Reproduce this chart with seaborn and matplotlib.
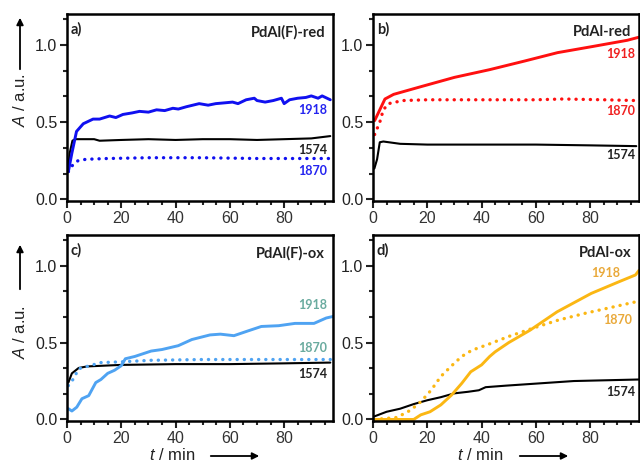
import numpy as np
import pandas as pd
import matplotlib
matplotlib.use("Agg")
import matplotlib.pyplot as plt
from matplotlib.ticker import MultipleLocator
import seaborn as sns

sns.set_style("ticks")
plt.rcParams['font.family'] = ['Liberation Sans', 'DejaVu Sans']
plt.rcParams['mathtext.fontset'] = 'custom'
plt.rcParams['mathtext.it'] = 'Liberation Sans:italic'
plt.rcParams['mathtext.rm'] = 'Liberation Sans'

# panel a) PdAl(F)-red
a_t_1918 = [0.5, 1.8, 3.5, 6, 9.6, 12, 15.7, 18, 20.6, 24, 26.7, 30, 33, 36, 39, 41, 44, 48.7, 52, 54.8, 58, 61, 63, 66, 69, 70, 73, 76, 79, 80, 82, 85, 88, 90, 92.5, 94, 97]
a_v_1918 = [0.18, 0.30, 0.44, 0.49, 0.52, 0.52, 0.54, 0.53, 0.55, 0.56, 0.57, 0.565, 0.58, 0.575, 0.59, 0.585, 0.60, 0.62, 0.61, 0.62, 0.625, 0.63, 0.62, 0.645, 0.655, 0.64, 0.63, 0.64, 0.655, 0.62, 0.645, 0.655, 0.66, 0.67, 0.655, 0.67, 0.645]
a_t_1870 = [0.5, 2, 4, 7, 15, 30, 50, 70, 97]
a_v_1870 = [0.18, 0.22, 0.25, 0.26, 0.265, 0.27, 0.27, 0.265, 0.265]
a_t_1574 = [0.5, 1, 2, 3, 10, 12, 20, 30, 40, 50, 60, 70, 80, 90, 97]
a_v_1574 = [0.21, 0.30, 0.38, 0.39, 0.39, 0.38, 0.385, 0.39, 0.385, 0.39, 0.39, 0.385, 0.39, 0.395, 0.41]

# panel b) PdAl-red
b_t_1918 = [0.6, 2.5, 4.4, 7.6, 17.7, 30, 43, 55.7, 68, 81, 93.7, 98]
b_v_1918 = [0.51, 0.58, 0.65, 0.68, 0.73, 0.79, 0.84, 0.895, 0.95, 0.99, 1.03, 1.05]
b_t_1870 = [0.6, 2.5, 3.8, 5.7, 11, 20, 40, 60, 70, 85, 97]
b_v_1870 = [0.42, 0.50, 0.58, 0.62, 0.64, 0.645, 0.645, 0.645, 0.65, 0.645, 0.64]
b_t_1574 = [0.5, 1.5, 2.5, 3.8, 10, 20, 40, 60, 80, 97]
b_v_1574 = [0.20, 0.26, 0.37, 0.375, 0.36, 0.355, 0.355, 0.355, 0.35, 0.345]

# panel c) PdAl(F)-ox
c_t_1918 = [0.5, 1.8, 3.6, 5.5, 8, 10.6, 12.5, 15, 17.5, 20, 21.5, 25, 31, 35, 41, 46, 52.7, 56.5, 61.5, 66.5, 71.6, 78, 84, 91, 95.5, 98]
c_v_1918 = [0.07, 0.055, 0.08, 0.135, 0.155, 0.24, 0.26, 0.30, 0.32, 0.35, 0.395, 0.41, 0.445, 0.455, 0.48, 0.52, 0.55, 0.555, 0.545, 0.575, 0.605, 0.61, 0.625, 0.625, 0.66, 0.67]
c_t_1870 = [0.5, 2.4, 4.3, 7.4, 12.5, 20, 31, 50, 70, 97]
c_v_1870 = [0.22, 0.265, 0.33, 0.345, 0.37, 0.375, 0.385, 0.39, 0.39, 0.39]
c_t_1574 = [0.5, 1.8, 4.3, 7.4, 20, 40, 60, 80, 97]
c_v_1574 = [0.24, 0.30, 0.335, 0.345, 0.355, 0.36, 0.36, 0.365, 0.37]

# panel d) PdAl-ox
d_t_1918 = [0.5, 15, 17.6, 21, 25, 29, 32.7, 36, 40, 43, 45, 50, 57.8, 67.8, 80.4, 90.5, 96.7, 98]
d_v_1918 = [0.0, 0.0, 0.03, 0.05, 0.095, 0.16, 0.235, 0.31, 0.355, 0.41, 0.44, 0.50, 0.58, 0.70, 0.82, 0.895, 0.94, 0.97]
d_t_1870 = [0.5, 8.8, 13.8, 17.6, 21.4, 25, 29, 32.7, 36.4, 42.7, 50, 60, 68, 78, 88, 98]
d_v_1870 = [0.0, 0.013, 0.06, 0.115, 0.19, 0.28, 0.35, 0.41, 0.45, 0.49, 0.54, 0.60, 0.645, 0.69, 0.73, 0.77]
d_t_1574 = [0.5, 5, 10, 15, 20, 25, 30, 35, 39, 41.5, 49, 61.5, 74, 98]
d_v_1574 = [0.02, 0.05, 0.07, 0.10, 0.125, 0.145, 0.17, 0.18, 0.19, 0.21, 0.22, 0.235, 0.25, 0.26]

panel_letters = ["a)", "b)", "c)", "d)"]
panel_names = ["PdAl(F)-red", "PdAl-red", "PdAl(F)-ox", "PdAl-ox"]
line_colors = ["#1010f0", "#ff1010", "#4fa3f2", "#fbb713"]
label_colors = ["#2424f0", "#f02020", "#6aab9f", "#e9a93a"]

series = [
    [(a_t_1918, a_v_1918), (a_t_1870, a_v_1870), (a_t_1574, a_v_1574)],
    [(b_t_1918, b_v_1918), (b_t_1870, b_v_1870), (b_t_1574, b_v_1574)],
    [(c_t_1918, c_v_1918), (c_t_1870, c_v_1870), (c_t_1574, c_v_1574)],
    [(d_t_1918, d_v_1918), (d_t_1870, d_v_1870), (d_t_1574, d_v_1574)],
]
# label positions (t, A) for 1918, 1870, 1574
label_pos = [
    [(96, 0.58), (96, 0.186), (96, 0.32)],
    [(96.5, 0.94), (96.5, 0.575), (96.5, 0.285)],
    [(96, 0.745), (96, 0.465), (96, 0.295)],
    [(91, 0.95), (95.5, 0.645), (96.7, 0.18)],
]

W, H = 640, 465
fig = plt.figure(figsize=(6.4, 4.65), dpi=100)
boxes = [(67, 14, 333, 201), (373, 14, 639, 201), (67, 235, 333, 421), (373, 235, 639, 421)]

for i, (l, t, r, b) in enumerate(boxes):
    ax = fig.add_axes([l / W, 1 - b / H, (r - l) / W, (b - t) / H])
    (t1, v1), (t2, v2), (t3, v3) = series[i]
    sns.lineplot(x=t3, y=v3, ax=ax, color="black", lw=1.5, estimator=None, sort=False)
    sns.lineplot(x=t2, y=v2, ax=ax, color=line_colors[i], lw=2.4, estimator=None, sort=False,
                 linestyle=(0, (0.05, 2.1)), dash_capstyle="round")
    sns.lineplot(x=t1, y=v1, ax=ax, color=line_colors[i], lw=2.1, estimator=None, sort=False)
    ax.set_xlim(0, 98)
    ax.set_ylim(-0.01, 1.2)
    ax.set_xticks([0, 20, 40, 60, 80])
    ax.set_yticks([0.0, 0.5, 1.0])
    ax.set_yticklabels(["0.0", "0.5", "1.0"])
    ax.xaxis.set_minor_locator(MultipleLocator(5))
    ax.yaxis.set_minor_locator(MultipleLocator(1 / 6))
    ax.tick_params(which="major", direction="out", length=5, width=1.5, labelsize=11.5, colors="#222222", pad=2)
    ax.tick_params(which="minor", direction="out", length=3, width=1.5)
    ax.tick_params(axis="x", which="both", labelcolor="#333333")
    for s in ax.spines.values():
        s.set_linewidth(1.8)
        s.set_color("black")
    ax.set_xlabel("")
    ax.set_ylabel("")
    ax.text(0.015, 0.955, panel_letters[i], transform=ax.transAxes, ha="left", va="top",
            fontsize=10.5, fontweight="bold", family=["Lato", "DejaVu Sans"], color="#222222")
    ax.text(0.97, 0.94, panel_names[i], transform=ax.transAxes, ha="right", va="top",
            fontsize=10.5, fontweight="bold", family=["Lato", "DejaVu Sans"], color="#222222")
    cols = [label_colors[i], label_colors[i], "#222222"]
    for (lx, ly), txt, c in zip(label_pos[i], ["1918", "1870", "1574"], cols):
        ax.text(lx, ly, txt, ha="right", va="center", fontsize=9, fontweight="bold",
                family=["Lato", "DejaVu Sans"], color=c)

# y axis labels with arrows
for yc, ya0, ya1 in [(100, 72, 15), (332, 292, 242)]:
    fig.text(20 / W, 1 - yc / H, r"$\it{A}$ / a.u.", rotation=90, ha="center", va="center",
             fontsize=12, color="#222222")
    fig.add_artist(matplotlib.patches.FancyArrowPatch((20 / W, 1 - ya0 / H), (20 / W, 1 - ya1 / H),
                   transform=fig.transFigure, arrowstyle="-|>,head_length=4,head_width=2",
                   mutation_scale=1, lw=1.3, color="black"))

# x axis labels with arrows
for xc, xa0, xa1 in [(172, 208, 262), (480, 517, 571)]:
    fig.text(xc / W, 1 - 447 / H, r"$\it{t}$ / min", ha="center", va="top", fontsize=12, color="#222222")
    fig.add_artist(matplotlib.patches.FancyArrowPatch((xa0 / W, 1 - 456 / H), (xa1 / W, 1 - 456 / H),
                   transform=fig.transFigure, arrowstyle="-|>,head_length=4,head_width=2",
                   mutation_scale=1, lw=1.3, color="black"))

fig.savefig("out.png", dpi=100)
